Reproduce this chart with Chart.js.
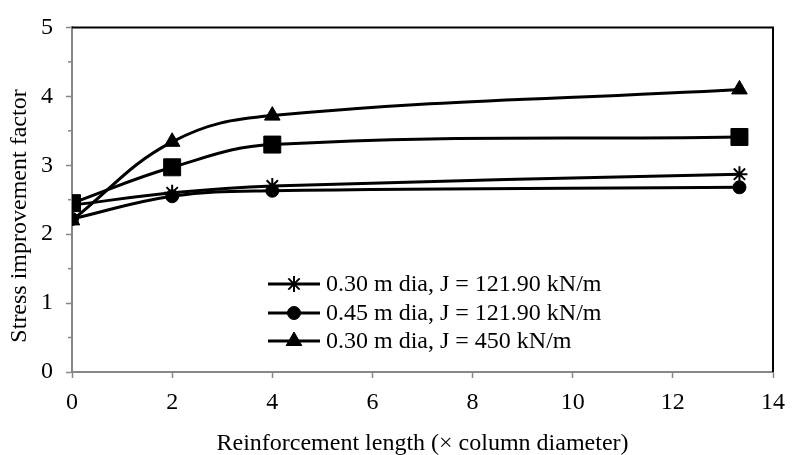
<!DOCTYPE html>
<html>
<head>
    <meta charset="UTF-8">
    <title>Stress improvement factor</title>
    <script src="https://cdn.jsdelivr.net/npm/chart.js"></script>
    <style>
        body { margin: 0; background: #fff; }
        #wrap { width: 795px; height: 455px; }
    </style>
</head>
<body>
    <div id="wrap">
        <canvas id="myChart" width="795" height="455"></canvas>
    </div>
    <script>
        // reinforcement length (x column diameter)
        const lengths = [0, 2, 4, 13.33];
        // stress improvement factor for each case
        const dia30J122 = [2.42, 2.60, 2.70, 2.87];
        const dia45J122 = [2.22, 2.55, 2.63, 2.68];
        const dia30J450 = [2.20, 3.34, 3.72, 4.10];
        const unlabelled = [2.45, 2.97, 3.30, 3.41];

        const seriesNames = ['0.30 m dia, J = 121.90 kN/m', '0.45 m dia, J = 121.90 kN/m', '0.30 m dia, J = 450 kN/m'];
        const xTicks = [0, 2, 4, 6, 8, 10, 12, 14];
        const yTicks = [0, 1, 2, 3, 4, 5];
        const xTitle = 'Reinforcement length (\u00d7 column diameter)';
        const yTitle = 'Stress improvement factor';

        const FONT = '"Liberation Serif", "Times New Roman", serif';
        const AXIS_GREY = '#878787';

        function toPoints(ys) {
            return lengths.map((x, i) => ({ x: x, y: ys[i] }));
        }

        function makeSet(label, ys, style, radius, bw) {
            return {
                label: label,
                data: toPoints(ys),
                borderColor: '#000',
                backgroundColor: '#000',
                borderWidth: 3,
                tension: 0.4,
                pointStyle: style,
                pointRadius: radius,
                pointHoverRadius: radius,
                pointBorderWidth: bw,
                pointBackgroundColor: '#000',
                pointBorderColor: '#000'
            };
        }

        const datasets = [
            makeSet(seriesNames[0], dia30J122, 'star', 8, 2),
            makeSet(seriesNames[1], dia45J122, 'circle', 6.5, 1),
            makeSet(seriesNames[2], dia30J450, 'triangle', 9, 1),
            makeSet('', unlabelled, 'rect', 12, 1)
        ];

        // frame, minor ticks, axis titles and the line+marker legend
        const extras = {
            id: 'extras',
            afterDraw(chart) {
                const ctx = chart.ctx;
                const a = chart.chartArea;
                const ys = chart.scales.y;
                ctx.save();

                ctx.strokeStyle = '#000';
                ctx.lineWidth = 2;
                ctx.beginPath();
                ctx.moveTo(a.left, a.top);
                ctx.lineTo(a.right, a.top);
                ctx.lineTo(a.right, a.bottom);
                ctx.stroke();

                ctx.strokeStyle = AXIS_GREY;
                ctx.lineWidth = 1.5;
                for (let i = 0; i < yTicks.length - 1; i++) {
                    const py = ys.getPixelForValue(yTicks[i] + 0.5);
                    ctx.beginPath();
                    ctx.moveTo(a.left - 4, py);
                    ctx.lineTo(a.left, py);
                    ctx.stroke();
                }

                ctx.fillStyle = '#000';
                ctx.font = '24px ' + FONT;
                ctx.textAlign = 'center';
                ctx.textBaseline = 'middle';
                ctx.fillText(xTitle, (a.left + a.right) / 2, 444);
                ctx.save();
                ctx.translate(20, 216);
                ctx.rotate(-Math.PI / 2);
                ctx.fillText(yTitle, 0, 0);
                ctx.restore();

                // legend
                const rows = [284, 313, 341];
                ctx.textAlign = 'left';
                for (let i = 0; i < seriesNames.length; i++) {
                    const ds = chart.data.datasets[i];
                    ctx.strokeStyle = '#000';
                    ctx.lineWidth = 3;
                    ctx.beginPath();
                    ctx.moveTo(268, rows[i]);
                    ctx.lineTo(320, rows[i]);
                    ctx.stroke();
                    ctx.fillStyle = '#000';
                    ctx.lineWidth = ds.pointBorderWidth;
                    Chart.helpers.drawPoint(ctx, {
                        pointStyle: ds.pointStyle,
                        radius: ds.pointRadius,
                        rotation: 0,
                        borderWidth: ds.pointBorderWidth
                    }, 294, rows[i]);
                    ctx.fillText(seriesNames[i], 326, rows[i] + 1);
                }
                ctx.restore();
            }
        };

        const ctx = document.getElementById('myChart').getContext('2d');
        const myChart = new Chart(ctx, {
            type: 'line',
            data: { datasets: datasets },
            options: {
                responsive: false,
                animation: false,
                layout: { padding: { top: 20, right: 15, left: 0, bottom: 0 } },
                plugins: {
                    legend: { display: false },
                    tooltip: { enabled: false }
                },
                scales: {
                    x: {
                        type: 'linear',
                        min: xTicks[0],
                        max: xTicks[xTicks.length - 1],
                        afterBuildTicks: s => { s.ticks = xTicks.map(v => ({ value: v })); },
                        afterFit: s => { s.height = 83; },
                        ticks: { color: '#000', font: { family: FONT, size: 24 }, padding: 10 },
                        grid: { drawOnChartArea: false, drawTicks: true, tickLength: 6, tickWidth: 1.5, tickColor: AXIS_GREY },
                        border: { color: AXIS_GREY, width: 2 }
                    },
                    y: {
                        min: yTicks[0],
                        max: yTicks[yTicks.length - 1],
                        afterBuildTicks: s => { s.ticks = yTicks.map(v => ({ value: v })); },
                        afterFit: s => { s.width = 72; },
                        ticks: { color: '#000', font: { family: FONT, size: 24 }, padding: 13 },
                        grid: { drawOnChartArea: false, drawTicks: true, tickLength: 6, tickWidth: 1.5, tickColor: AXIS_GREY },
                        border: { color: AXIS_GREY, width: 2 }
                    }
                }
            },
            plugins: [extras]
        });
    </script>
</body>
</html>
